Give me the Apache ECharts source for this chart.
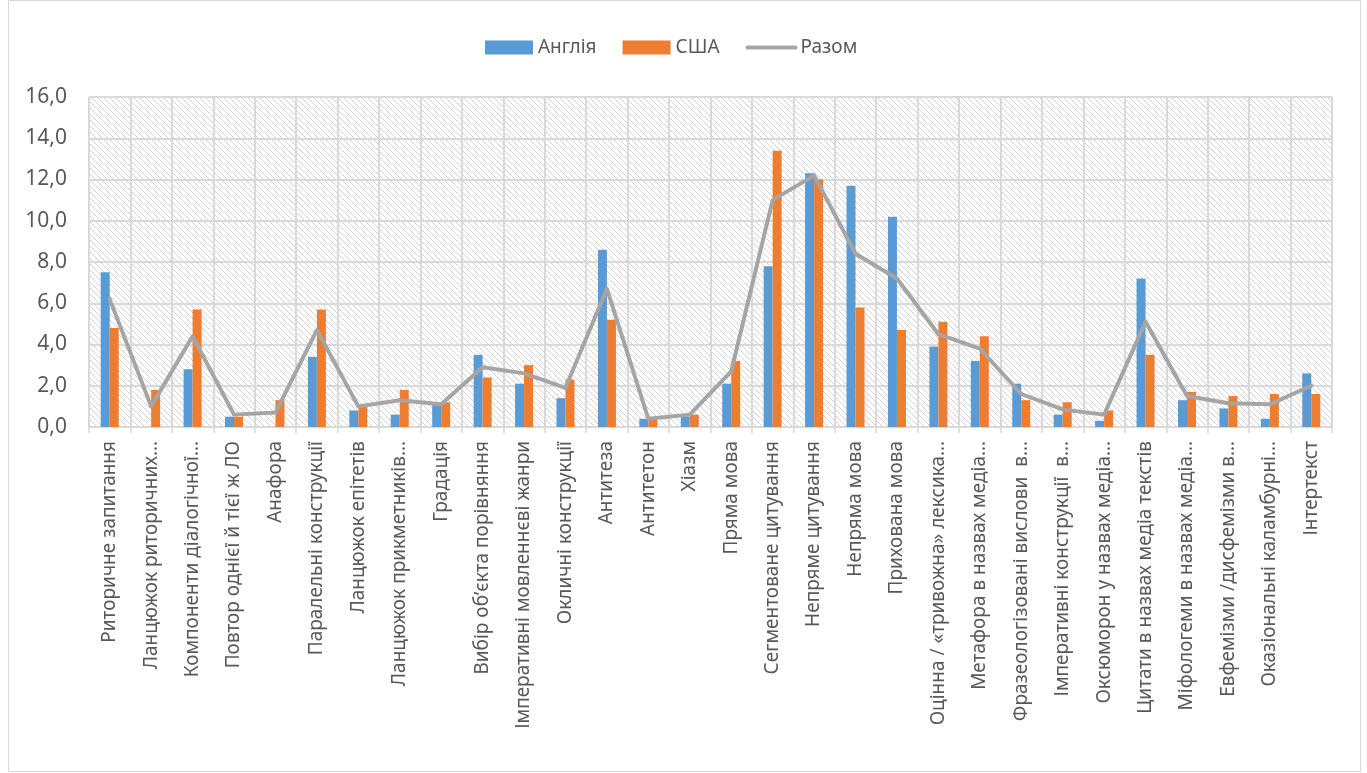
<!DOCTYPE html>
<html>
<head>
<meta charset="utf-8">
<script src="https://cdn.jsdelivr.net/npm/echarts@6/dist/echarts.min.js"></script>
<style>
  html, body { margin: 0; padding: 0; background: #fff; }
  #chart { width: 1367px; height: 773px; }
</style>
</head>
<body>
<div id="chart"></div>
<script>
// Stylistic devices in media texts, %
const categories = [
  'Риторичне запитання',
  'Ланцюжок риторичних…',
  'Компоненти діалогічної…',
  'Повтор однієї й тієї ж ЛО',
  'Анафора',
  'Паралельні конструкції',
  'Ланцюжок епітетів',
  'Ланцюжок прикметників…',
  'Градація',
  'Вибір об’єкта порівняння',
  'Імперативні мовленнєві жанри',
  'Окличні конструкції',
  'Антитеза',
  'Антитетон',
  'Хіазм',
  'Пряма мова',
  'Сегментоване цитування',
  'Непряме цитування',
  'Непряма мова',
  'Прихована мова',
  'Оцінна / «тривожна» лексика…',
  'Метафора в назвах медіа…',
  'Фразеологізовані вислови  в…',
  'Імперативні конструкції  в…',
  'Оксюморон у назвах медіа…',
  'Цитати в назвах медіа текстів',
  'Міфологеми в назвах медіа…',
  'Евфемізми /дисфемізми в…',
  'Оказіональні каламбурні…',
  'Інтертекст'
];

const england = [7.5, 0, 2.8, 0.5, 0, 3.4, 0.8, 0.6, 1.1, 3.5, 2.1, 1.4, 8.6, 0.4, 0.5,
                 2.1, 7.8, 12.3, 11.7, 10.2, 3.9, 3.2, 2.1, 0.6, 0.3, 7.2, 1.3, 0.9, 0.4, 2.6];
const usa     = [4.8, 1.8, 5.7, 0.5, 1.3, 5.7, 1.1, 1.8, 1.2, 2.4, 3.0, 2.3, 5.2, 0.4, 0.6,
                 3.2, 13.4, 12.0, 5.8, 4.7, 5.1, 4.4, 1.3, 1.2, 0.8, 3.5, 1.7, 1.5, 1.6, 1.6];
const total   = [6.2, 1.0, 4.4, 0.6, 0.7, 4.7, 1.0, 1.3, 1.1, 2.9, 2.6, 1.9, 6.7, 0.4, 0.6,
                 2.7, 11.0, 12.2, 8.4, 7.2, 4.5, 3.8, 1.6, 0.85, 0.6, 5.1, 1.5, 1.15, 1.1, 2.0];

const seriesNames = ['Англія', 'США', 'Разом'];
const yTicks = { min: 0, max: 16, step: 2 };

// diagonal hatch fill for the plot area
function hatchPattern() {
  const s = 6;
  const c = document.createElement('canvas');
  c.width = s; c.height = s;
  const g = c.getContext('2d');
  g.fillStyle = '#ffffff';
  g.fillRect(0, 0, s, s);
  g.strokeStyle = '#d2d2d2';
  g.lineWidth = 1;
  g.beginPath();
  g.moveTo(-1, -1); g.lineTo(s + 1, s + 1);
  g.moveTo(-1, s - 1); g.lineTo(1, s + 1);
  g.moveTo(s - 1, -1); g.lineTo(s + 1, 1);
  g.stroke();
  return { image: c, repeat: 'repeat' };
}

const FONT = 'Noto Sans';
const TXT = '#595959';
const GRID = '#d9d9d9';
const LINE = '#a5a5a5';

const chart = echarts.init(document.getElementById('chart'), null, { renderer: 'canvas' });

chart.setOption({
  backgroundColor: '#ffffff',
  animation: false,
  textStyle: { fontFamily: FONT },
  graphic: [{
    type: 'rect',
    shape: { x: 8.5, y: 0.5, width: 1352, height: 771 },
    style: { fill: 'none', stroke: GRID, lineWidth: 1 },
    silent: true, z: -10
  }],
  legend: {
    top: 33,
    left: 480,
    itemWidth: 48,
    itemHeight: 14,
    itemGap: 26,
    textStyle: { color: TXT, fontSize: 19, fontFamily: FONT },
    data: [
      { name: seriesNames[0], icon: 'rect' },
      { name: seriesNames[1], icon: 'rect' },
      {
        name: seriesNames[2],
        itemStyle: { opacity: 0 },
        lineStyle: { color: LINE, width: 4, cap: 'round' }
      }
    ]
  },
  grid: {
    left: 89, right: 35, top: 97, bottom: 346,
    show: true,
    borderWidth: 0,
    backgroundColor: hatchPattern()
  },
  xAxis: {
    type: 'category',
    data: categories,
    boundaryGap: true,
    axisLine: { show: true, lineStyle: { color: GRID, width: 2 } },
    axisTick: { show: true, length: 6, lineStyle: { color: GRID, width: 1.5 } },
    splitLine: { show: true, lineStyle: { color: GRID, width: 2 } },
    axisLabel: {
      interval: 0,
      rotate: 90,
      margin: 14,
      color: TXT,
      fontSize: 19,
      fontFamily: FONT
    }
  },
  yAxis: {
    type: 'value',
    min: yTicks.min,
    max: yTicks.max,
    interval: yTicks.step,
    axisLine: { show: false },
    axisTick: { show: false },
    splitLine: { show: true, lineStyle: { color: GRID, width: 2 } },
    axisLabel: {
      margin: 22,
      color: TXT,
      fontSize: 21,
      fontFamily: FONT,
      formatter: v => v.toFixed(1).replace('.', ',')
    }
  },
  series: [
    {
      name: seriesNames[0],
      type: 'bar',
      data: england,
      barWidth: 9,
      barGap: '0%',
      itemStyle: { color: '#5b9bd5' }
    },
    {
      name: seriesNames[1],
      type: 'bar',
      data: usa,
      barWidth: 9,
      barGap: '0%',
      itemStyle: { color: '#ed7d31' }
    },
    {
      name: seriesNames[2],
      type: 'line',
      data: total,
      symbol: 'none',
      lineStyle: { color: LINE, width: 4, cap: 'round', join: 'round' },
      itemStyle: { color: LINE },
      z: 5
    }
  ]
});
</script>
</body>
</html>
